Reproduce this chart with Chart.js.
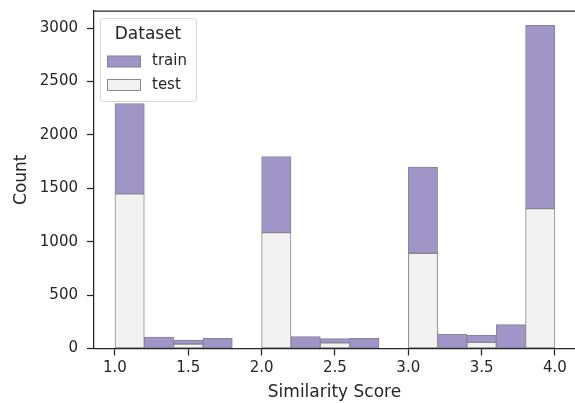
<!DOCTYPE html>
<html>
<head>
<meta charset="utf-8">
<script src="https://cdn.jsdelivr.net/npm/chart.js@4/dist/chart.umd.min.js"></script>
<style>
  html, body { margin: 0; padding: 0; background: #fff; overflow: hidden; }
  #wrap { width: 575px; height: 403px; position: relative; }
</style>
</head>
<body>
<div id="wrap"><canvas id="hist"></canvas></div>
<script>
// bin centres (width 0.2, from 1.0 to 4.0)
const scoreBins = [1.1, 1.3, 1.5, 1.7, 1.9, 2.1, 2.3, 2.5, 2.7, 2.9, 3.1, 3.3, 3.5, 3.7, 3.9];
const testCounts  = [1448, 0, 42, 0, 0, 1085, 0, 54, 0, 0, 892, 0, 58, 0, 1310];
const trainCounts = [846, 108, 38, 96, 0, 713, 111, 38, 96, 0, 806, 136, 66, 223, 1715];
const xTicks = [1.0, 1.5, 2.0, 2.5, 3.0, 3.5, 4.0];
const yTicks = [0, 500, 1000, 1500, 2000, 2500, 3000];

const ink = '#262626';
const FONT = 'DejaVu Sans';

function points(counts) {
  return scoreBins.map((x, i) => ({ x: x, y: counts[i] > 0 ? counts[i] : null }));
}

// top spine + seaborn style legend box
const extras = {
  id: 'extras',
  afterDraw(chart) {
    const ctx = chart.ctx;
    const a = chart.chartArea;
    ctx.save();
    ctx.strokeStyle = ink;
    ctx.lineWidth = 1.25;
    ctx.beginPath();
    ctx.moveTo(a.left, a.top);
    ctx.lineTo(a.right, a.top);
    ctx.stroke();

    // legend
    const lx = a.left + 6, ly = a.top + 7, lw = 96, lh = 83;
    ctx.fillStyle = 'rgba(255,255,255,0.85)';
    ctx.strokeStyle = '#d6d6d6';
    ctx.lineWidth = 1;
    ctx.beginPath();
    ctx.roundRect(lx + 0.5, ly + 0.5, lw, lh, 3);
    ctx.fill();
    ctx.stroke();

    ctx.fillStyle = ink;
    ctx.textAlign = 'center';
    ctx.textBaseline = 'middle';
    ctx.font = '17px "' + FONT + '"';
    ctx.fillText('Dataset', lx + lw / 2, ly + 17);

    const items = chart.data.datasets.slice().reverse();
    ctx.font = '15px "' + FONT + '"';
    ctx.textAlign = 'left';
    items.forEach((ds, i) => {
      const sy = ly + 38 + i * 23.5;
      ctx.fillStyle = ds.backgroundColor;
      ctx.fillRect(lx + 7.5, sy, 33, 11);
      ctx.strokeStyle = ds.borderColor;
      ctx.lineWidth = 1;
      ctx.strokeRect(lx + 7.5, sy, 33, 11);
      ctx.fillStyle = ink;
      ctx.fillText(ds.label, lx + 52, sy + 5.5);
    });
    ctx.restore();
  }
};

new Chart(document.getElementById('hist'), {
  type: 'bar',
  data: {
    datasets: [
      {
        label: 'test',
        data: points(testCounts),
        backgroundColor: '#f2f2f2',
        borderColor: '#8a8a8a',
        borderWidth: 1,
        borderSkipped: false
      },
      {
        label: 'train',
        data: points(trainCounts),
        backgroundColor: '#a095c7',
        borderColor: '#86809c',
        borderWidth: 1,
        borderSkipped: false
      }
    ]
  },
  options: {
    responsive: true,
    maintainAspectRatio: false,
    animation: false,
    layout: { padding: { top: 11, right: 0, left: 0, bottom: 0 } },
    datasets: { bar: { barPercentage: 1, categoryPercentage: 1 } },
    plugins: {
      legend: { display: false },
      tooltip: { enabled: false }
    },
    scales: {
      x: {
        type: 'linear',
        min: 0.857,
        max: 4.137,
        offset: false,
        stacked: true,
        afterBuildTicks: axis => { axis.ticks = xTicks.map(v => ({ value: v })); },
        afterFit: axis => { axis.height = 54.5; axis.paddingLeft = 0; axis.paddingRight = 0; },
        grid: { offset: false, drawOnChartArea: false, tickLength: 7, tickColor: ink, tickWidth: 1.25 },
        border: { color: ink, width: 1.25 },
        ticks: {
          color: ink,
          font: { family: FONT, size: 15 },
          padding: 4,
          maxRotation: 0,
          callback: v => v.toFixed(1)
        },
        title: {
          display: true,
          text: 'Similarity Score',
          color: ink,
          font: { family: FONT, size: 17 },
          padding: { top: 0, bottom: 0 }
        }
      },
      y: {
        min: 0,
        max: 3160,
        stacked: true,
        afterBuildTicks: axis => { axis.ticks = yTicks.map(v => ({ value: v })); },
        afterFit: axis => { axis.width = 94; axis.paddingTop = 0; axis.paddingBottom = 0; },
        grid: { drawOnChartArea: false, tickLength: 7, tickColor: ink, tickWidth: 1.25 },
        border: { color: ink, width: 1.25 },
        ticks: {
          color: ink,
          font: { family: FONT, size: 15 },
          padding: 9,
          callback: v => String(v)
        },
        title: {
          display: true,
          text: 'Count',
          color: ink,
          font: { family: FONT, size: 17 },
          padding: { top: 11, bottom: 0 }
        }
      }
    }
  },
  plugins: [extras]
});
</script>
</body>
</html>
